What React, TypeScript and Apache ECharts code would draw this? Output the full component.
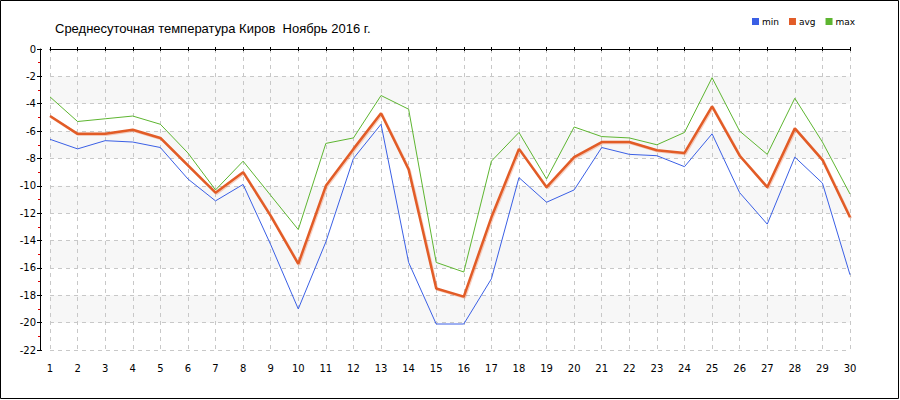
import React, { useEffect, useRef } from "react";
import * as echarts from "echarts";

const days = Array.from({ length: 30 }, (_, i) => String(i + 1));
const minT = [-6.6, -7.3, -6.7, -6.8, -7.2, -9.5, -11.1, -9.9, -14.3, -19.0, -14.1, -8.0, -5.5, -15.6, -20.1, -20.1, -16.8, -9.4, -11.2, -10.3, -7.2, -7.7, -7.8, -8.6, -6.2, -10.5, -12.8, -7.9, -9.8, -16.5];
const avgT = [-4.9, -6.2, -6.2, -5.9, -6.5, -8.5, -10.5, -9.0, -12.2, -15.7, -10.0, -7.3, -4.7, -8.8, -17.5, -18.1, -12.3, -7.3, -10.1, -7.9, -6.8, -6.8, -7.4, -7.6, -4.2, -7.8, -10.1, -5.8, -8.1, -12.3];
const maxT = [-3.5, -5.3, -5.1, -4.9, -5.5, -7.6, -10.3, -8.2, -10.7, -13.2, -6.9, -6.5, -3.4, -4.4, -15.6, -16.3, -8.2, -6.1, -9.5, -5.7, -6.4, -6.5, -7.0, -6.1, -2.1, -6.0, -7.7, -3.6, -6.8, -10.6];
const titleText = "Среднесуточная температура Киров  Ноябрь 2016 г.";

const FONT = "DejaVu Sans";
const TITLE_FONT = "Liberation Sans";

export default function App() {
  const ref = useRef<HTMLDivElement>(null);
  useEffect(() => {
    if (!ref.current) return;
    const chart = echarts.init(ref.current, null, { renderer: "svg" });
    const yBase = {
      type: "value",
      min: -22,
      max: 0,
      interval: 2,
      position: "left",
      offset: 10,
    };
    const xBase = {
      type: "category",
      data: days,
      boundaryGap: false,
      position: "bottom",
      offset: 10,
    };
    chart.setOption({
      animation: false,
      backgroundColor: "#fff",
      title: {
        text: titleText,
        left: 50,
        top: 17,
        textStyle: { fontSize: 13, fontWeight: "normal", color: "#000", fontFamily: TITLE_FONT },
      },
      legend: {
        left: 747,
        top: 12,
        itemWidth: 7,
        itemHeight: 7,
        itemGap: 10,
        icon: "rect",
        textStyle: { fontSize: 9, color: "#000", fontFamily: FONT, padding: [0, 0, 0, -2] },
        data: ["min", "avg", "max"],
      },
      grid: { left: 50, right: 50, top: 49, bottom: 50 },
      xAxis: [
        {
          ...xBase,
          axisLine: { show: true, lineStyle: { color: "#000", width: 1 } },
          axisTick: { show: true, length: 2, alignWithLabel: true, lineStyle: { color: "#000" } },
          axisLabel: { show: true, margin: 3, fontSize: 10, color: "#000", fontFamily: FONT, interval: 0 },
          splitLine: { show: true, lineStyle: { color: "#c8c8c8", type: [4, 4], width: 1 } },
        },
        {
          ...xBase,
          axisLine: { show: false },
          axisTick: { show: true, inside: true, length: 2, lineStyle: { color: "#000" } },
          axisLabel: { show: false },
          splitLine: { show: false },
        },
      ],
      yAxis: [
        {
          ...yBase,
          axisLine: { show: true, lineStyle: { color: "#000", width: 1 } },
          axisTick: { show: true, length: 3, lineStyle: { color: "#000" } },
          minorTick: { show: true, splitNumber: 2, length: 2, lineStyle: { color: "#e00000" } },
          axisLabel: { show: true, margin: 4, fontSize: 10, color: "#000", fontFamily: FONT },
          splitLine: { show: true, lineStyle: { color: "#c8c8c8", type: [4, 4], width: 1 } },
          splitArea: { show: true, areaStyle: { color: ["rgba(255,255,255,0)", "#f7f7f7"] } },
        },
        {
          ...yBase,
          axisLine: { show: false },
          axisTick: { show: true, inside: true, length: 2, lineStyle: { color: "#000" } },
          axisLabel: { show: false },
          splitLine: { show: false },
        },
      ],
      series: [
        {
          name: "min",
          type: "line",
          data: minT,
          symbol: "none",
          color: "#3a5fe5",
          lineStyle: { width: 1, color: "#3a5fe5" },
          z: 3,
        },
        {
          name: "max",
          type: "line",
          data: maxT,
          symbol: "none",
          color: "#5db530",
          lineStyle: { width: 1, color: "#5db530" },
          z: 3,
        },
        {
          name: "avg",
          type: "line",
          data: avgT,
          symbol: "none",
          color: "#e25c28",
          lineStyle: {
            width: 2.5,
            color: "#e25c28",
            shadowColor: "rgba(232,95,42,0.3)",
            shadowBlur: 1,
            shadowOffsetX: 1,
            shadowOffsetY: 1,
          },
          z: 4,
        },
      ],
      graphic: [
        {
          type: "rect",
          shape: { x: 0.5, y: 0.5, width: 898, height: 398 },
          style: { fill: "none", stroke: "#000", lineWidth: 1 },
          silent: true,
          z: 100,
        },
      ],
    });
    return () => chart.dispose();
  }, []);
  return (
    <div
      ref={ref}
      style={{ position: "absolute", left: 0, top: 0, width: 900, height: 400 }}
    />
  );
}
